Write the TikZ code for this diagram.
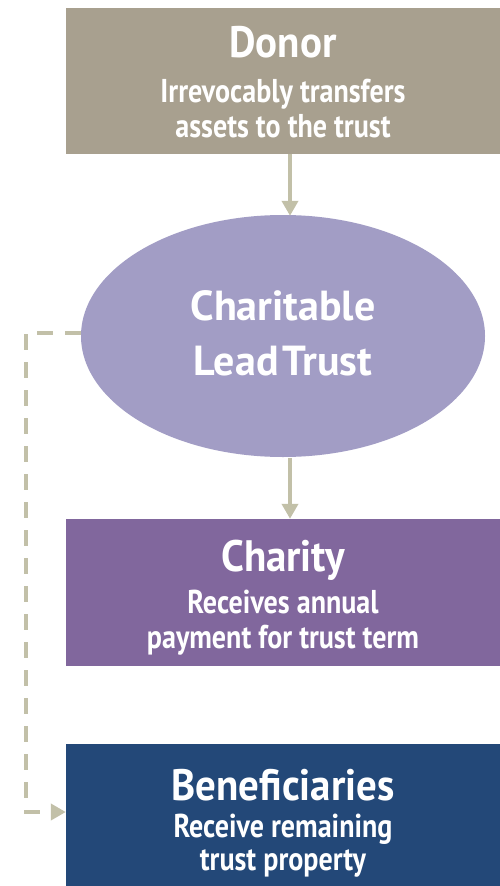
\documentclass[tikz,border=0pt]{standalone}
\usepackage{fontspec}
\setmainfont{PT Sans}
\newfontfamily\ttlfont[FakeStretch=0.93]{PT Sans}
\newfontfamily\elfont[FakeStretch=1.0]{PT Sans}
\newfontfamily\subfont[FakeStretch=0.85]{PT Sans}
\usetikzlibrary{arrows.meta,shapes.geometric}
\definecolor{donorc}{RGB}{168,160,143}
\definecolor{ellc}{RGB}{162,157,197}
\definecolor{charc}{RGB}{129,103,157}
\definecolor{benc}{RGB}{35,72,120}
\definecolor{arrc}{RGB}{194,192,168}
\begin{document}
\begin{tikzpicture}[x=1pt,y=-1pt,
  box/.style={rectangle,draw=none,inner sep=0pt,minimum width=434pt},
  ttl/.style={text=white,anchor=base,inner sep=0pt,font=\ttlfont\bfseries\fontsize{44}{48}\selectfont},
  eltxt/.style={text=white,anchor=base,inner sep=0pt,font=\elfont\bfseries\fontsize{42}{44}\selectfont},
  sub/.style={text=white,anchor=base,inner sep=0pt,font=\subfont\bfseries\fontsize{33}{36}\selectfont},
  arr/.style={draw=arrc,line width=4pt,-{Triangle[length=15pt,width=16pt]}},
  dasharr/.style={draw=arrc,line width=4pt,dash pattern=on 16pt off 12pt,-{Triangle[length=15pt,width=16pt]}}
]
\useasboundingbox (0,0) rectangle (500,886);
\fill[white] (0,0) rectangle (500,886);
\node[box,fill=donorc,minimum height=146pt] (donor) at (283,81) {};
\node[ellipse,fill=ellc,draw=none,minimum width=404pt,minimum height=242pt,inner sep=0pt] (clt) at (283,336) {};
\node[box,fill=charc,minimum height=147pt] (charity) at (283,592.5) {};
\node[box,fill=benc,minimum height=144pt] (ben) at (283,816) {};
% texts
\node[ttl] (t1) at (283,57) {Donor};
\node[sub] (s1a) at (283,102) {Irrevocably transfers};
\node[sub] (s1b) at (283,137) {assets to the trust};
\node[eltxt] (t2a) at (283,320) {Charitable};
\node[eltxt] (t2b) at (283,375) {Lead\hspace{0.1em}Trust};
\node[ttl] (t3) at (283,571) {Charity};
\node[sub] (s3a) at (283,613) {Receives annual};
\node[sub] (s3b) at (283,648) {payment for trust term};
\node[ttl] (t4) at (283,800) {Beneficiaries};
\node[sub] (s4a) at (283,837) {Receive remaining};
\node[sub] (s4b) at (283,870) {trust property};
% connectors
\coordinate (c1) at (26,333);
\coordinate (c2) at (26,812);
\draw[arr] ([xshift=7pt]donor.south) -- ([xshift=7pt,yshift=-1pt]donor.south |- clt.north);
\draw[arr] ([xshift=7pt,yshift=-1pt]clt.south) -- ([xshift=7pt]clt.south |- charity.north);
\draw[dasharr] (clt.west |- c1) -- (c1) -- (c2) -- (c2 -| ben.west);
\end{tikzpicture}
\end{document}
